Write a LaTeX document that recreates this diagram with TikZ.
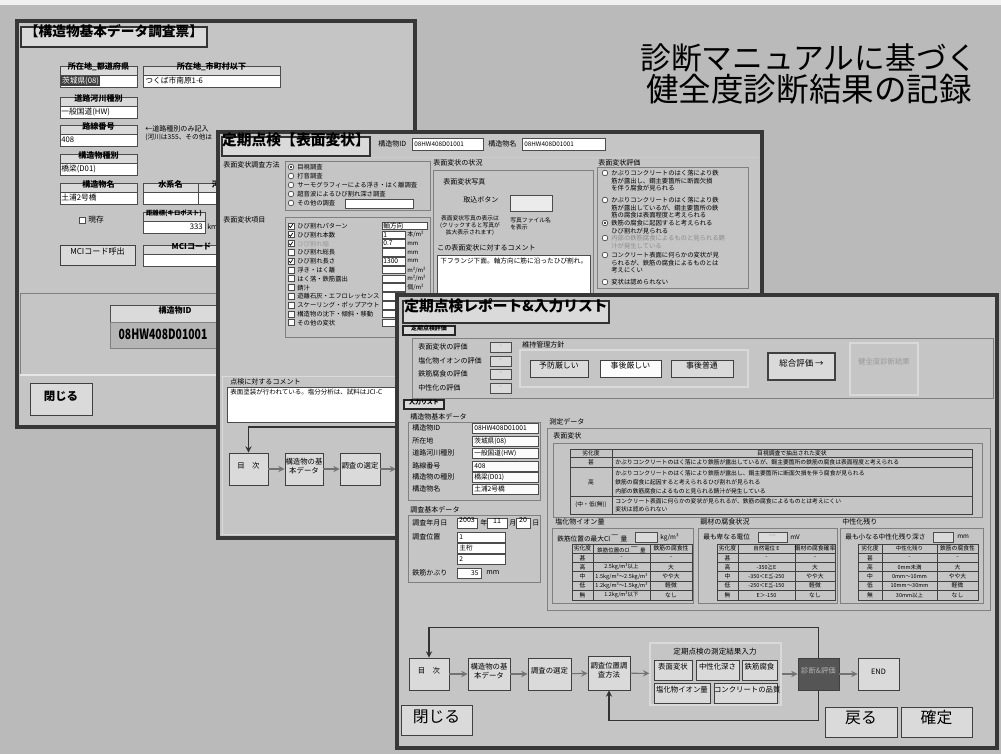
\documentclass[tikz,border=0pt]{standalone}
\usepackage{fontspec}
\newfontfamily\cjk{Noto Sans CJK JP}
\usetikzlibrary{positioning, fit, arrows}
\definecolor{bgray}{RGB}{186,186,186}
\definecolor{wingray}{RGB}{197,197,197}
\definecolor{winedge}{RGB}{55,55,55}
\definecolor{face}{RGB}{218,218,218}
\definecolor{darkbtn}{RGB}{85,85,85}
\newcommand{\uifs}[2]{\fontsize{#1}{#2}\selectfont}
\newcommand{\kgm}{kg/m³}
\tikzstyle{win}      = [draw=winedge, line width=1.8pt, fill=wingray]
\tikzstyle{titlebox} = [draw=black!80, fill=face, line width=0.6pt, inner sep=0pt, font=\cjk\bfseries\uifs{8.4}{10}]
\tikzstyle{tabbox}   = [draw=black!85, fill=face, line width=0.6pt, inner sep=0pt, font=\cjk\bfseries\uifs{3.4}{4}]
\tikzstyle{fhead}    = [draw=black!70, fill=face, inner sep=0pt, font=\cjk\bfseries\uifs{4.6}{5}]
\tikzstyle{field}    = [draw=black!70, fill=white, inner sep=0pt, line width=0.4pt, font=\cjk\uifs{4}{5}]
\tikzstyle{btn}      = [draw=black!75, fill=face, inner sep=0pt, line width=0.5pt, align=center, font=\cjk\uifs{4.2}{5}]
\tikzstyle{lbl}      = [anchor=west, inner sep=0pt, font=\cjk\uifs{4}{5}]
\tikzstyle{val}      = [anchor=west, inner sep=0pt, font=\cjk\uifs{4.4}{5}]
\tikzstyle{cell}     = [inner sep=0pt, font=\cjk\uifs{3.3}{4}]
\tikzstyle{panel}    = [draw=black!50, line width=0.4pt]
\tikzstyle{tline}    = [draw=black!75, line width=0.45pt]
\tikzstyle{radio}    = [circle, draw=black!70, fill=white, minimum size=3.2pt, inner sep=0pt]
\tikzstyle{checkbox} = [rectangle, draw=black!70, fill=white, minimum size=3.4pt, inner sep=0pt]
\tikzstyle{arrow}    = [->, >=stealth, draw=black!55, line width=0.6pt]
\tikzstyle{fbline}   = [->, >=stealth, draw=black!80, line width=0.6pt]
\begin{document}
\begin{tikzpicture}[x=0.02cm, y=-0.02cm, font=\cjk]
\fill[bgray] (0,0) rectangle (1001,754);
\useasboundingbox (0,0) rectangle (1001,754);
\fill[white!80!bgray] (0,0) rectangle (1001,5);

\node (head1) [font=\cjk\uifs{17.5}{20}] at (809,58) {診断マニュアルに基づく};
\node (head2) [below=-6pt of head1, font=\cjk\uifs{18.5}{21}] {健全度診断結果の記録};

% window 1
\draw[win] (17,21) rectangle (415,427);
\node (t1) [titlebox, font=\cjk\bfseries\uifs{7.8}{10}, fit={(21,27) (207,47)}] {【構造物基本データ調査票】};
\node (prefh) [fhead, fit={(60,66) (137,75)}] {所在地\_都道府県};
\node (prefv) [field, fit={(60,75) (137,87)}] {};
\node (prefs) [val, fill=black!75, text=white, inner sep=0.4pt] at (61,81) {茨城県(08)};
\node (cityh) [fhead, fit={(143,66) (280,75)}] {所在地\_市町村以下};
\node (cityv) [field, fit={(143,75) (280,87)}] {};
\node (cityt) [val] at (145,81) {つくば市南原1-6};
\foreach \nm/\hd/\vl/\yy in {road/道路河川種別/一般国道(HW)/97, route/路線番号/408/125, kind/構造物種別/橋梁(D01)/154, bname/構造物名/土浦2号橋/183} {
  \node (\nm h) [fhead, fit={(60,\yy) (137,\yy+9)}] {\hd};
  \node (\nm v) [field, fit={(60,\yy+9) (137,\yy+21)}] {};
  \node (\nm t) [val] at (61,\yy+15) {\vl};
}
\node (note1) [lbl] at (145,129) {←道路種別のみ記入};
\node (note2) [lbl, font=\cjk\uifs{3.8}{5}] at (145,137) {(河川は355、その他は};
\node (waterh) [fhead, fit={(143,183) (198,192)}] {水系名};
\node (waterv) [field, fit={(143,192) (198,204)}] {};
\node (riverh) [fhead, fit={(198,183) (250,192)}] {河川名};
\node (riverv) [field, fit={(198,192) (250,204)}] {};
\node (chk0) [checkbox] at (82,220) {};
\node (chkl0) [val] at (88,220) {現存};
\node (kmh) [fhead, font=\cjk\bfseries\uifs{3.6}{4}, fit={(143,212) (205,221)}] {距離標(キロポスト)};
\node (kmv) [field, fit={(143,221) (205,233)}] {};
\node (kmt) [val, anchor=east] at (203,227) {333};
\node (kmu) [lbl] at (207,227) {km};
\node (mcib) [btn, font=\cjk\uifs{4.6}{5}, fit={(60,245) (135,265)}] {MCIコード呼出};
\node (mcih) [fhead, fit={(143,245) (240,254)}] {MCIコード};
\node (mciv) [field, fit={(143,254) (240,266)}] {};
\draw[panel] (20,293) rectangle (217,375);
\draw[white!90!black, line width=0.8pt] (20,375) -- (217,375);
\node (idh) [fhead, fit={(110,305) (240,322)}] {構造物ID};
\node (idv) [draw=black!50, fill=wingray!92!black, inner sep=0pt, fit={(110,322) (240,348)}] {};
\node (idt) [font=\cjk\bfseries\uifs{8}{9}] at (163,334) {\scalebox{0.74}[1]{08HW408D01001}};
\node (close1) [btn, font=\cjk\bfseries\uifs{6.5}{8}, fit={(30,383) (92,415)}] {\raisebox{-2.2pt}{閉じる}};

% window 2
\draw[win] (218,132) rectangle (762,538);
\draw[white!80!black] (221,157) -- (759,157);
\node (t2) [titlebox, fit={(222,137) (370,156)}] {定期点検【表面変状】};
\node (idl2) [lbl] at (378,144) {構造物ID};
\node (idf2) [field, fit={(412,138) (483,150)}] {};
\node (idt2) [val, font=\cjk\uifs{3.6}{4}] at (414,144) {08HW408D01001};
\node (nml2) [lbl] at (488,144) {構造物名};
\node (nmf2) [field, fit={(522,138) (605,150)}] {};
\node (nmt2) [val, font=\cjk\uifs{3.6}{4}] at (524,144) {08HW408D01001};

\node (methl) [lbl] at (223,165) {表面変状調査方法};
\draw[panel] (285,161) rectangle (430,210);
\foreach \i/\txt/\yy in {1/目視調査/167, 2/打音調査/176, 3/サーモグラフィーによる浮き・はく離調査/185, 4/超音波によるひび割れ深さ調査/194, 5/その他の調査/203} {
  \node (rad\i) [radio] at (291,\yy) {};
  \node (radt\i) [lbl, font=\cjk\uifs{3.6}{4}] at (297,\yy) {\txt};
}
\fill[black] (rad1.center) circle (0.7pt);
\node (othf) [field, fit={(345,199) (413,208)}] {};

\node (iteml) [lbl] at (223,220) {表面変状項目};
\draw[panel] (285,217) rectangle (430,337);
\foreach \i/\txt/\tc in {1/ひび割れパターン/black, 2/ひび割れ本数/black, 3/ひび割れ幅/black!40, 4/ひび割れ総長/black, 5/ひび割れ長さ/black, 6/浮き・はく離/black, 7/はく落・鉄筋露出/black, 8/錆汁/black, 9/遊離石灰・エフロレッセンス/black, 10/スケーリング・ポップアウト/black, 11/構造物の沈下・傾斜・移動/black, 12/その他の変状/black} {
  \pgfmathsetmacro\yy{226+(\i-1)*8.8}
  \node (cb\i) [checkbox] at (291,\yy) {};
  \node (cbt\i) [lbl, text=\tc, font=\cjk\uifs{3.6}{4}] at (297,\yy) {\txt};
  \node (cbf\i) [field, fit={(382,\yy-3.8) (405,\yy+3.8)}] {};
}
\foreach \i in {1,2,3,5}
  \draw[line width=0.4pt] ([xshift=-1.1pt]cb\i.center) -- ++(0.8pt,-0.9pt) -- ++(1.3pt,1.9pt);
\node (cbd1) [field, fit={(382,222.2) (427,229.8)}] {};
\node (cbv1) [val, font=\cjk\uifs{3.8}{4}] at (383,226) {軸方向};
\node (cbv2) [val, font=\cjk\uifs{3.8}{4}] at (383,234.8) {1};
\node (cbv3) [val, font=\cjk\uifs{3.8}{4}] at (383,243.6) {0.7};
\node (cbv5) [val, font=\cjk\uifs{3.8}{4}] at (383,261.2) {1300};
\node (cbu2) [lbl, font=\cjk\uifs{3.4}{4}] at (407,234.8) {本/m²};
\node (cbu3) [lbl, font=\cjk\uifs{3.4}{4}] at (407,243.6) {mm};
\node (cbu4) [lbl, font=\cjk\uifs{3.4}{4}] at (407,252.4) {mm};
\node (cbu5) [lbl, font=\cjk\uifs{3.4}{4}] at (407,261.2) {mm};
\node (cbu6) [lbl, font=\cjk\uifs{3.4}{4}] at (407,270) {m²/m²};
\node (cbu7) [lbl, font=\cjk\uifs{3.4}{4}] at (407,278.8) {m²/m²};
\node (cbu8) [lbl, font=\cjk\uifs{3.4}{4}] at (407,287.6) {個/m²};

\node (statl) [lbl] at (433,163) {表面変状の状況};
\draw[panel] (433,170) rectangle (593,293);
\node (photol) [lbl] at (443,182) {表面変状写真};
\node (getl) [lbl] at (463,200) {取込ボタン};
\node (getf) [field, fill=white!92!black, fit={(510,195) (552,211)}] {};
\node (pnote) [lbl, align=center, anchor=center, font=\cjk\uifs{3.3}{4}] at (470,226) {表面変状写真の表示は\\(クリックすると写真が\\拡大表示されます)};
\node (pfile) [lbl, align=left, font=\cjk\uifs{3.3}{4}] at (510,224) {写真ファイル名\\を表示};
\node (cmtl2) [lbl] at (437,248) {この表面変状に対するコメント};
\node (cmtf2) [field, fit={(437,255) (590,293)}] {};
\node (cmtt2) [val, font=\cjk\uifs{3.8}{4}] at (440,261) {下フランジ下面。軸方向に筋に沿ったひび割れ。};

\node (evall) [lbl] at (598,163) {表面変状評価};
\draw[panel] (597,167) rectangle (748,288);
\foreach \i/\yy/\tc/\txt in {1/173/black/{かぶりコンクリートのはく落により鉄\\筋が露出し、鋼主要箇所に断面欠損\\を伴う腐食が見られる}, 2/200/black/{かぶりコンクリートのはく落により鉄\\筋が露出しているが、鋼主要箇所の鉄\\筋の腐食は表面程度と考えられる}, 3/223/black/{鉄筋の腐食に起因すると考えられる\\ひび割れが見られる}, 4/238/black!45/{内部の鉄筋腐食によるものと見られる錆\\汁が発生している}, 5/255/black/{コンクリート表面に何らかの変状が見\\られるが、鉄筋の腐食によるものとは\\考えにくい}, 6/282/black/{変状は認められない}} {
  \node (jr\i) [radio] at (605,\yy) {};
  \node (jt\i) [anchor=north west, inner sep=0pt, align=left, text=\tc, font=\cjk\uifs{3.6}{4.3}] at (611,\yy-3.2) {\txt};
}
\fill[black] (jr3.center) circle (0.7pt);

\node (cmtl1) [lbl] at (230,382) {点検に対するコメント};
\node (cmtf1) [field, fit={(227,387) (598,422)}] {};
\node (cmtt1) [val, font=\cjk\uifs{3.7}{4}] at (230,392) {表面塗装が行われている。塩分分析は、試料はJCI-C};
\draw[white!85!black] (222,376) rectangle (597,534);
\coordinate (fb2) at (396,427);
\coordinate (cut2) at (396,469);
\node (menu2) [btn, fit={(229,453) (268,485)}] {目　次};
\node (base2) [btn, fit={(285,453) (323,485)}] {構造物の基\\本データ};
\node (choose2) [btn, fit={(340,453) (380,485)}] {調査の選定};
\draw[arrow] (menu2) -- (base2);
\draw[arrow] (base2) -- (choose2);
\draw[arrow] (choose2) -- (cut2);
\draw[fbline] (fb2) -| (menu2.north);

% window 3
\draw[win] (397,295) rectangle (997,748);
\node (t3) [titlebox, fit={(403,301) (609,323)}] {定期点検レポート\&入力リスト};
\node (tab1) [tabbox, fit={(403,326) (455,335)}] {定期点検評価};
\draw[panel] (412,338) rectangle (993,398);
\foreach \i/\txt/\yy in {1/表面変状の評価/347, 2/塩化物イオンの評価/361, 3/鉄筋腐食の評価/374, 4/中性化の評価/388} {
  \node (evl\i) [lbl] at (418,\yy) {\txt};
  \node (evf\i) [field, fill=face, text=black!40, fit={(490,\yy-5) (511,\yy+5)}] {-};
}
\node (mngl) [lbl] at (522,345) {維持管理方針};
\draw[white!85!black, line width=0.6pt] (520,350) rectangle (748,387);
\node (yobo) [btn, font=\cjk\uifs{4.5}{5}, fit={(530,360) (588,377)}] {予防厳しい};
\node (jigo1) [btn, fill=white!92!face, font=\cjk\uifs{4.5}{5}, fit={(600,360) (661,377)}] {事後厳しい};
\node (jigo2) [btn, font=\cjk\uifs{4.5}{5}, fit={(671,360) (733,377)}] {事後普通};
\node (total) [btn, line width=0.9pt, font=\cjk\uifs{4.8}{5}, fit={(768,353) (835,380)}] {総合評価 →};
\node (result) [draw=white!85!black, line width=0.6pt, inner sep=0pt, fit={(850,343) (918,395)}] {};
\node (resultt) [text=black!40, font=\cjk\uifs{4.2}{5}] at (884,362) {健全度診断結果};

\node (tab2) [tabbox, fit={(404,400) (444,409)}] {入力リスト};
\node (basel) [lbl] at (410,417) {構造物基本データ};
\draw[panel] (408,422) rectangle (540,500);
\foreach \i/\lb/\vl/\yy in {1/構造物ID/08HW408D01001/428, 2/所在地/茨城県(08)/441, 3/道路河川種別/一般国道(HW)/453, 4/路線番号/408/466, 5/構造物の種別/橋梁(D01)/477, 6/構造物名/土浦2号橋/489} {
  \node (bl\i) [lbl] at (412,\yy) {\lb};
  \node (bf\i) [field, fill=white!90!face, fit={(472,\yy-5) (538,\yy+5)}] {};
  \node (bv\i) [val, font=\cjk\uifs{3.8}{4}] at (474,\yy) {\vl};
}
\node (surl) [lbl] at (410,510) {調査基本データ};
\draw[panel] (408,515) rectangle (540,582);
\node (datel) [lbl] at (412,523) {調査年月日};
\node (yearf) [field, fit={(457,518) (477,528)}] {2003};
\node (yearl) [lbl] at (480,523) {年};
\node (monf) [field, fit={(487,518) (507,528)}] {11};
\node (monl) [lbl] at (509,523) {月};
\node (dayf) [field, fit={(516,518) (530,528)}] {20};
\node (dayl) [lbl] at (532,523) {日};
\node (posl) [lbl] at (412,537) {調査位置};
\foreach \i/\vl/\yy in {1/1/537, 2/主桁/548, 3/2/559} {
  \node (pf\i) [field, fit={(457,\yy-5) (505,\yy+5)}] {};
  \node (pv\i) [val, font=\cjk\uifs{3.8}{4}] at (459,\yy) {\vl};
}
\node (covl) [lbl] at (412,573) {鉄筋かぶり};
\node (covf) [field, fit={(457,568) (481,578)}] {};
\node (covv) [val, anchor=east, font=\cjk\uifs{3.8}{4}] at (479,573) {35};
\node (covu) [lbl] at (486,573) {mm};

\node (meal) [lbl] at (549,422) {測定データ};
\draw[panel] (547,428) rectangle (990,610);
\node (surfl) [lbl] at (553,436) {表面変状};
\draw[panel] (553,443) rectangle (982,517);
\draw[tline] (570,449) rectangle (972,514);
\draw[tline] (612,449) -- (612,514);
\foreach \yy in {457,467,496} \draw[tline] (570,\yy) -- (972,\yy);
\node (h1) [cell] at (591,453) {劣化度};
\node (h2) [cell] at (792,453) {目視調査で抽出された変状};
\node (g1) [cell] at (591,462) {甚};
\node (g1t) [cell, anchor=west] at (615,462) {かぶりコンクリートのはく落により鉄筋が露出しているが、鋼主要箇所の鉄筋の腐食は表面程度と考えられる};
\node (g2) [cell] at (591,482) {高};
\node (g2t) [cell, anchor=west, align=left, font=\cjk\uifs{3.3}{5.1}] at (615,482) {かぶりコンクリートのはく落により鉄筋が露出し、鋼主要箇所に断面欠損を伴う腐食が見られる\\鉄筋の腐食に起因すると考えられるひび割れが見られる\\内部の鉄筋腐食によるものと見られる錆汁が発生している};
\node (g3) [cell] at (591,505) {(中・低(無))};
\node (g3t) [cell, anchor=west, align=left, font=\cjk\uifs{3.3}{4.6}] at (615,505) {コンクリート表面に何らかの変状が見られるが、鉄筋の腐食によるものとは考えにくい\\変状は認められない};

\node (cll) [lbl] at (555,522) {塩化物イオン量};
\draw[panel] (552,528) rectangle (693,603);
\node (clfl) [lbl, font=\cjk\uifs{3.8}{4}] at (557,537) {鉄筋位置の最大Cl$^-$量};
\node (clf) [field, fill=face, fit={(635,532) (657,542)}] {};
\node (clu) [lbl, font=\cjk\uifs{3.6}{4}] at (660,537) {\kgm};
\node (stl) [lbl] at (700,522) {鋼材の腐食状況};
\draw[panel] (698,528) rectangle (837,603);
\node (stfl) [lbl, font=\cjk\uifs{3.8}{4}] at (703,537) {最も卑なる電位};
\node (stf) [field, fill=face, text=black!40, fit={(758,532) (787,542)}] {---};
\node (stu) [lbl, font=\cjk\uifs{3.6}{4}] at (790,537) {mV};
\node (nel) [lbl] at (842,522) {中性化残り};
\draw[panel] (840,528) rectangle (983,603);
\node (nefl) [lbl, font=\cjk\uifs{3.8}{4}] at (845,537) {最も小なる中性化残り深さ};
\node (nef) [field, fill=face, fit={(933,532) (953,542)}] {};
\node (neu) [lbl, font=\cjk\uifs{3.6}{4}] at (957,537) {mm};
\foreach \ca/\cb/\cc/\cd in {572/593/650/692, 717/738/795/835, 858/882/937/978} {
  \draw[tline] (\ca,544) rectangle (\cd,600);
  \draw[tline] (\cb,544) -- (\cb,600) (\cc,544) -- (\cc,600);
  \foreach \yy in {553,562.3,571.6,580.9,590.2} \draw[tline] (\ca,\yy) -- (\cd,\yy);
}
\foreach \i/\dg/\va/\vb in {0/劣化度/鉄筋位置のCl$^-$量/鉄筋の腐食性, 1/甚/-/-, 2/高/2.5\kgm 以上/大, 3/中/1.5\kgm～2.5\kgm/やや大, 4/低/1.2\kgm～1.5\kgm/軽微, 5/無/1.2\kgm 以下/なし} {
  \pgfmathsetmacro\yy{548.5+9.3*\i}
  \node (cl\i g) [cell] at (582.5,\yy) {\dg};
  \node (cl\i m) [cell, font=\cjk\uifs{3.1}{4}] at (621.5,\yy) {\va};
  \node (cl\i r) [cell] at (671,\yy) {\vb};
}
\foreach \i/\dg/\va/\vb in {0/劣化度/自然電位 E/鋼材の腐食確率, 1/甚/-/-, 2/高/-350≧E/大, 3/中/-350＜E≦-250/やや大, 4/低/-250＜E≦-150/軽微, 5/無/E＞-150/なし} {
  \pgfmathsetmacro\yy{548.5+9.3*\i}
  \node (st\i g) [cell] at (727.5,\yy) {\dg};
  \node (st\i m) [cell, font=\cjk\uifs{3.1}{4}] at (766.5,\yy) {\va};
  \node (st\i r) [cell] at (815,\yy) {\vb};
}
\foreach \i/\dg/\va/\vb in {0/劣化度/中性化残り/鉄筋の腐食性, 1/甚/-/-, 2/高/0mm未満/大, 3/中/0mm～10mm/やや大, 4/低/10mm～30mm/軽微, 5/無/30mm以上/なし} {
  \pgfmathsetmacro\yy{548.5+9.3*\i}
  \node (ne\i g) [cell] at (870,\yy) {\dg};
  \node (ne\i m) [cell, font=\cjk\uifs{3.1}{4}] at (909.5,\yy) {\va};
  \node (ne\i r) [cell] at (957.5,\yy) {\vb};
}

\node (menu3) [btn, fit={(409,658) (449,690)}] {目　次};
\node (base3) [btn, fit={(468,658) (510,690)}] {構造物の基\\本データ};
\node (choose3) [btn, fit={(528,658) (571,690)}] {調査の選定};
\node (pos3) [btn, fit={(588,656) (630,690)}] {調査位置調\\査方法};
\node (grp3) [draw=white!85!black, line width=0.8pt, inner sep=0pt, fit={(650,643) (781,705)}] {};
\node (grpl) [font=\cjk\uifs{4.3}{5}, inner sep=0pt] at (715,652) {定期点検の測定結果入力};
\node (m1) [btn, fit={(654,660) (692,680)}] {表面変状};
\node (m2) [btn, fit={(696,660) (739,680)}] {中性化深さ};
\node (m3) [btn, fit={(742,660) (777,680)}] {鉄筋腐食};
\node (m4) [btn, fit={(654,683) (710,703)}] {塩化物イオン量};
\node (m5) [btn, fit={(714,683) (777,703)}] {コンクリートの品質};
\node (diag3) [btn, fill=darkbtn, text=white!55!darkbtn, fit={(798,658) (839,690)}] {診断\&評価};
\node (end3) [btn, fit={(858,658) (899,690)}] {END};
\draw[arrow] (menu3) -- (base3);
\draw[arrow] (base3) -- (choose3);
\draw[arrow] (choose3) -- (pos3);
\draw[arrow] (pos3) -- (grp3);
\draw[arrow] (grp3) -- (diag3);
\draw[arrow] (diag3) -- (end3);
\draw[fbline] (diag3.north) -- ++(0,-30) -| (menu3.north);
\draw[fbline] (diag3.south) -- ++(0,30) -| (pos3.south);
\node (close3) [btn, font=\cjk\uifs{9}{10}, fit={(401,705) (472,735)}] {\raisebox{-3pt}{閉じる}};
\node (back3) [btn, font=\cjk\uifs{9}{10}, fit={(825,707) (897,737)}] {\raisebox{-3pt}{戻る}};
\node (ok3) [btn, font=\cjk\uifs{9}{10}, fit={(901,707) (972,737)}] {\raisebox{-3pt}{確定}};
\end{tikzpicture}
\end{document}
